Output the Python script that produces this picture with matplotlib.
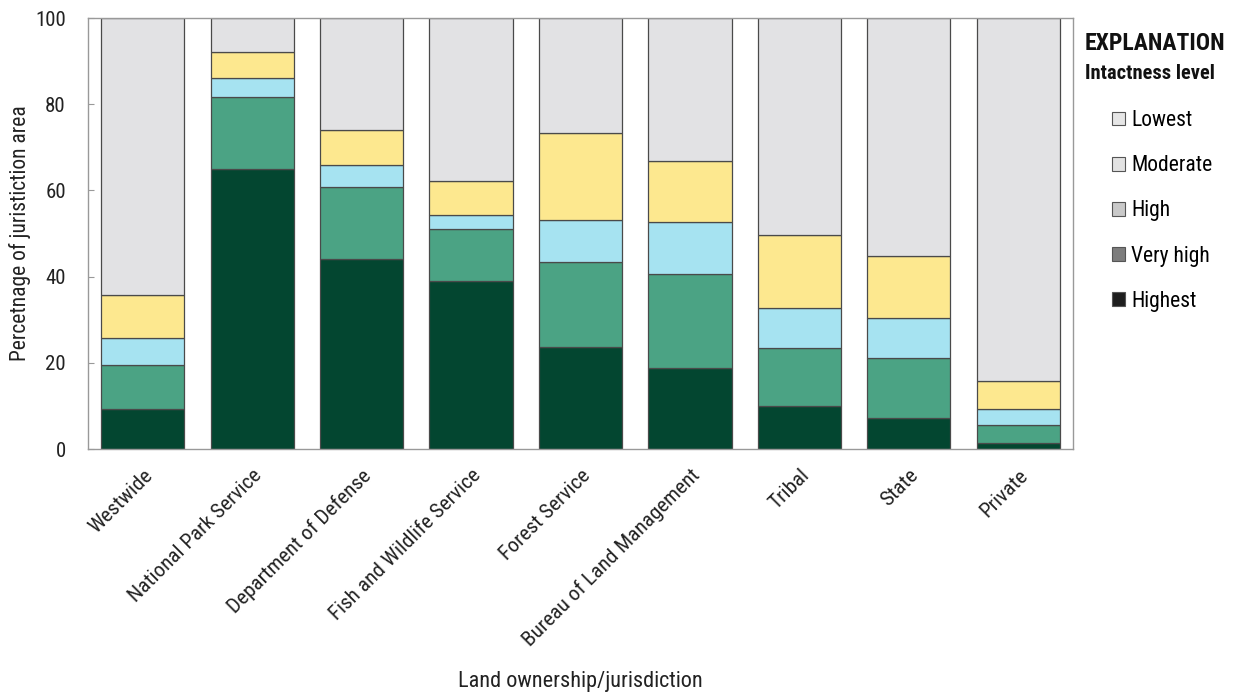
import matplotlib.pyplot as plt
from matplotlib import font_manager
from matplotlib.patches import Patch
import numpy as np

# pick a narrow sans if one is installed
names = {f.name for f in font_manager.fontManager.ttflist}
stretches = {(f.name, f.stretch) for f in font_manager.fontManager.ttflist}
font = "Roboto"
stretch = "normal"
for cand in ["Liberation Sans Narrow", "Arial Narrow", "Roboto Condensed"]:
    if cand in names:
        font = cand
        break
else:
    if ("DejaVu Sans", "condensed") in stretches or ("DejaVu Sans", 300) in stretches:
        font = "DejaVu Sans"
        stretch = "condensed"
plt.rcParams['font.family'] = [font, 'DejaVu Sans']
plt.rcParams['font.stretch'] = stretch

# categories and segment sizes (percent of jurisdiction area)
jurisdictions = ["Westwide", "National Park Service", "Department of Defense",
                 "Fish and Wildlife Service", "Forest Service",
                 "Bureau of Land Management", "Tribal", "State", "Private"]
highest = [9.3, 65.0, 44.2, 39.0, 23.7, 18.9, 9.9, 7.3, 1.4]
very_high = [10.3, 16.7, 16.7, 12.1, 19.7, 21.8, 13.5, 13.9, 4.2]
high = [6.1, 4.4, 5.1, 3.1, 9.8, 11.9, 9.4, 9.1, 3.8]
moderate = [10.1, 5.9, 8.1, 7.9, 20.1, 14.3, 16.8, 14.4, 6.4]
lowest = [100 - a - b - c - d for a, b, c, d in zip(highest, very_high, high, moderate)]

levels = ["Highest", "Very high", "High", "Moderate", "Lowest"]
bar_colors = ["#034630", "#4ba384", "#a6e3f1", "#fde88f", "#e2e2e4"]
legend_colors = ["#1e1e1e", "#7d7d7d", "#c9c9c9", "#e2e2e2", "#e6e6e6"]

fig = plt.figure(figsize=(12.34, 6.98), dpi=100)
ax = fig.add_axes([0.0713, 0.3567, 0.7982, 0.6175])

x = np.arange(len(jurisdictions))
bottom = np.zeros(len(x))
for vals, col in zip([highest, very_high, high, moderate, lowest], bar_colors):
    ax.bar(x, vals, bottom=bottom, width=0.76, color=col,
           edgecolor="#4a4a4a", linewidth=0.9)
    bottom += np.array(vals)

ax.set_xlim(-0.5, 8.5)
ax.set_ylim(0, 100)
ax.set_yticks([0, 20, 40, 60, 80, 100])
ax.tick_params(axis="y", direction="in", length=4, labelsize=15, pad=16,
               colors="#999999", labelcolor="#222222")
ax.set_xticks(x)
ax.set_xticklabels(jurisdictions, rotation=45, ha="right", va="top",
                   rotation_mode="anchor", fontsize=15.3, color="#222222")
ax.tick_params(axis="x", length=0, pad=12)
for s in ax.spines.values():
    s.set_color("#999999")
    s.set_linewidth(1)

ax.set_ylabel("Percetnage of juristiction area", fontsize=15.5, color="#222222")
ax.yaxis.set_label_coords(-0.058, 0.5)
ax.set_xlabel("Land ownership/jurisdiction", fontsize=16, color="#222222")
ax.xaxis.set_label_coords(0.5, -0.515)

# explanation / legend
fig.text(0.8793, 0.937, "EXPLANATION", fontsize=17, fontweight="bold",
         color="#111111", va="center")
fig.text(0.8793, 0.895, "Intactness level", fontsize=14.8, fontweight="bold",
         color="#111111", va="center")
handles = [Patch(facecolor=c, edgecolor="#555555", linewidth=0.8)
           for c in legend_colors[::-1]]
fig.legend(handles, levels[::-1], loc="upper left",
           bbox_to_anchor=(0.8925, 0.8575), frameon=False, fontsize=15.5,
           handlelength=0.6, handleheight=0.6, handletextpad=0.3,
           labelspacing=1.12, borderpad=0)

fig.savefig("out.png", dpi=100)
